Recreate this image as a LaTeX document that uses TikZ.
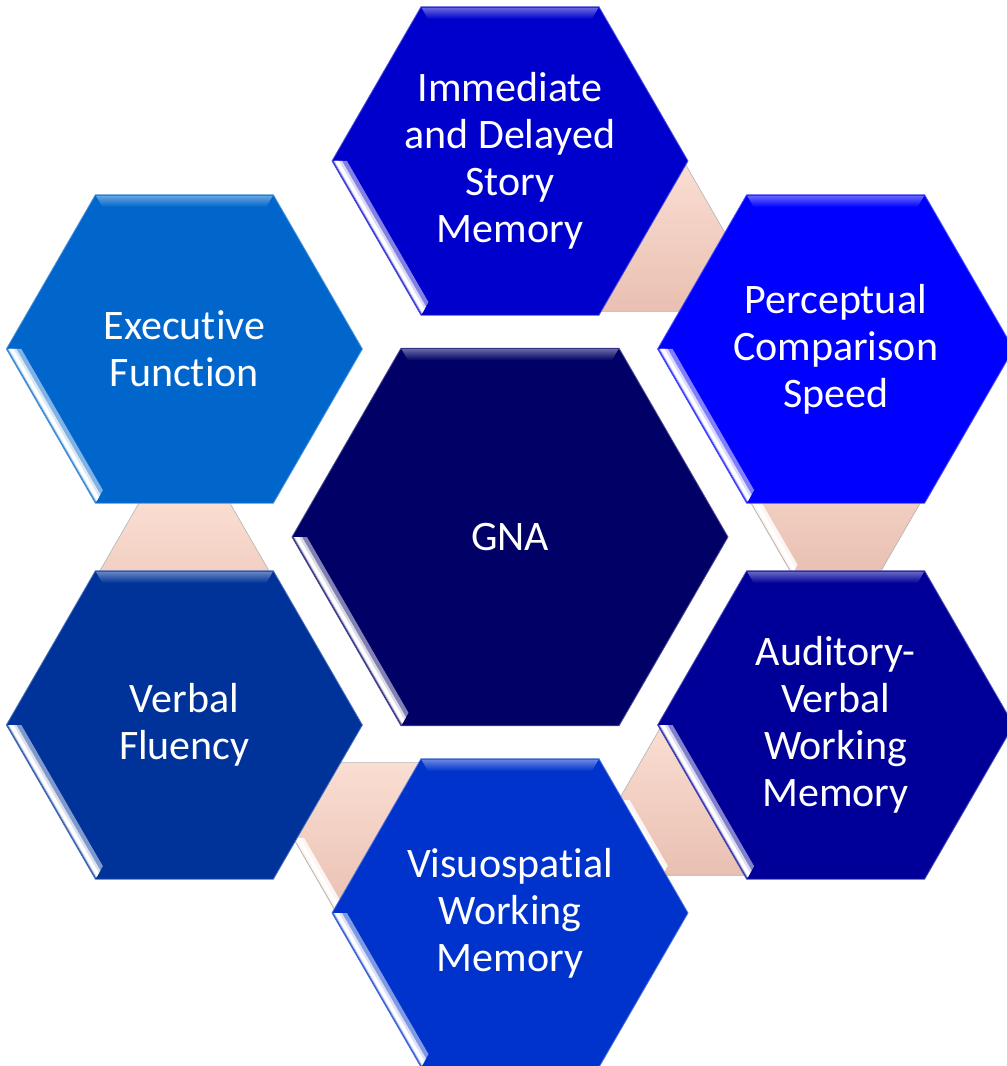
\documentclass[tikz,border=0pt]{standalone}
\usepackage{fontspec}
\newfontfamily\hexfont[Ligatures=NoCommon]{Carlito}
\usetikzlibrary{shapes.geometric}

\definecolor{cgna}{RGB}{0,0,102}
\definecolor{cmem}{RGB}{0,0,204}
\definecolor{cper}{RGB}{0,0,255}
\definecolor{caud}{RGB}{0,0,153}
\definecolor{cvis}{RGB}{0,51,204}
\definecolor{cflu}{RGB}{0,51,153}
\definecolor{cexe}{RGB}{0,102,204}
\definecolor{lktop}{RGB}{250,222,210}
\definecolor{lkbot}{RGB}{233,192,178}

\begin{document}
\begin{tikzpicture}[x=1pt,y=1pt,
  hx/.style={regular polygon,regular polygon sides=6,inner sep=0pt,%
    minimum size=356pt,line width=0.8pt,text=white,align=center,%
    font=\hexfont\fontsize{42}{47}\selectfont},%
  hc/.style={fill=#1,draw=#1!70!white},%
  lk/.style={regular polygon,regular polygon sides=6,inner sep=0pt,%
    minimum size=174pt,draw=gray!60,line width=0.6pt,%
    top color=lktop,bottom color=lkbot},%
  ]
  \useasboundingbox (-510,-529) rectangle (497,537);
  \clip (-510,-529) rectangle (497,537);
  % pink links between neighbouring hexagons
  \foreach \a [count=\i] in {6.66,66.66,186.66,246.66,306.66}{
    \node (k\i) [lk] at (\a:327.8) {};
    \fill[shift={(k\i.center)},white!70!lktop] (180:86) -- (240:86) -- (240:76) -- (180:76) -- cycle;
    \fill[shift={(k\i.center)},white] (180:84) -- (240:84) -- (240:80) -- (180:80) -- cycle;
  }
  % hexagons
  \node (gna) [hx,hc=cgna,minimum size=436pt] {GNA};
  \node (mem) [hx,hc=cmem] at (90:376) {Immediate\\and Delayed\\Story\\Memory};
  \node (per) [hx,hc=cper] at (30:376) {Perceptual\\Comparison\\Speed};
  \node (aud) [hx,hc=caud] at (-30:376) {Auditory-\\Verbal\\Working\\Memory};
  \node (vis) [hx,hc=cvis] at (-90:376) {Visuospatial\\Working\\Memory};
  \node (flu) [hx,hc=cflu] at (-150:376) {Verbal\\Fluency};
  \node (exe) [hx,hc=cexe] at (150:376) {Executive\\Function};
  % bevel: light band along the top, white edge at the lower left
  \foreach \nm/\cl/\rd in {gna/cgna/218,mem/cmem/178,per/cper/178,aud/caud/178,%
    vis/cvis/178,flu/cflu/178,exe/cexe/178}{
    \shade[shift={(\nm.center)},top color=\cl!60!white,bottom color=\cl]
      (120:{\rd-1}) -- (60:{\rd-1}) -- (60:{\rd-14}) -- (120:{\rd-14}) -- cycle;
    \fill[shift={(\nm.center)},\cl!50!white]
      (180:{\rd-1}) -- (240:{\rd-1}) -- (240:{\rd-15}) -- (180:{\rd-15}) -- cycle;
    \fill[shift={(\nm.center)},\cl!15!white]
      (180:{\rd-2}) -- (240:{\rd-2}) -- (240:{\rd-10}) -- (180:{\rd-10}) -- cycle;
    \fill[shift={(\nm.center)},white]
      (180:{\rd-3}) -- (240:{\rd-3}) -- (240:{\rd-7}) -- (180:{\rd-7}) -- cycle;
  }
\end{tikzpicture}
\end{document}
